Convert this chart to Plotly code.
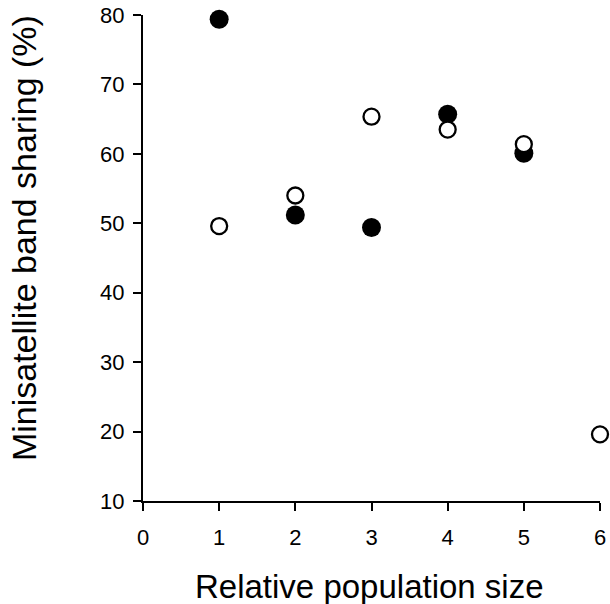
import plotly.graph_objects as go

# Data
filled_x = [1, 2, 3, 4, 5]
filled_y = [79.4, 51.2, 49.4, 65.7, 60.1]
open_x = [1, 2, 3, 4, 5, 6]
open_y = [49.6, 54.0, 65.35, 63.5, 61.4, 19.6]

x_ticks = [0, 1, 2, 3, 4, 5, 6]
y_ticks = [10, 20, 30, 40, 50, 60, 70, 80]

x_title = "Relative population size"
y_title = "Minisatellite band sharing (%)"

FONT = "Liberation Sans, Arial, Helvetica, sans-serif"

fig = go.Figure()
fig.add_trace(go.Scatter(
    x=filled_x, y=filled_y, mode="markers",
    marker=dict(size=19, color="black", line=dict(width=0)),
    cliponaxis=False, showlegend=False,
))
fig.add_trace(go.Scatter(
    x=open_x, y=open_y, mode="markers",
    marker=dict(size=16, color="white", line=dict(width=2.3, color="black")),
    cliponaxis=False, showlegend=False,
))

fig.update_layout(
    width=610, height=604,
    margin=dict(l=143, r=10, t=15, b=103, autoexpand=False),
    paper_bgcolor="white", plot_bgcolor="white",
    font=dict(family=FONT, color="black"),
)
fig.update_xaxes(
    range=[0, 6], tickvals=x_ticks, ticktext=[str(v) for v in x_ticks],
    showline=True, linecolor="black", linewidth=2,
    ticks="outside", ticklen=8, tickwidth=2, tickcolor="black",
    showgrid=False, zeroline=False, automargin=False,
    ticklabelstandoff=8,
    tickfont=dict(size=22, family=FONT, color="black"),
)
fig.update_yaxes(
    range=[10, 80], tickvals=y_ticks, ticktext=[str(v) for v in y_ticks],
    showline=True, linecolor="black", linewidth=2,
    ticks="outside", ticklen=8, tickwidth=2, tickcolor="black",
    showgrid=False, zeroline=False, automargin=False,
    ticklabelstandoff=4,
    tickfont=dict(size=22, family=FONT, color="black"),
)

fig.add_annotation(
    text=x_title, xref="paper", yref="paper", x=0.4967, y=-0.175,
    xanchor="center", yanchor="middle", showarrow=False,
    font=dict(size=33, family=FONT, color="black"),
)
fig.add_annotation(
    text=y_title, xref="paper", yref="paper", x=-0.2604, y=0.541,
    xanchor="center", yanchor="middle", showarrow=False, textangle=-90,
    font=dict(size=34, family=FONT, color="black"),
)

fig.write_html("out.html")
